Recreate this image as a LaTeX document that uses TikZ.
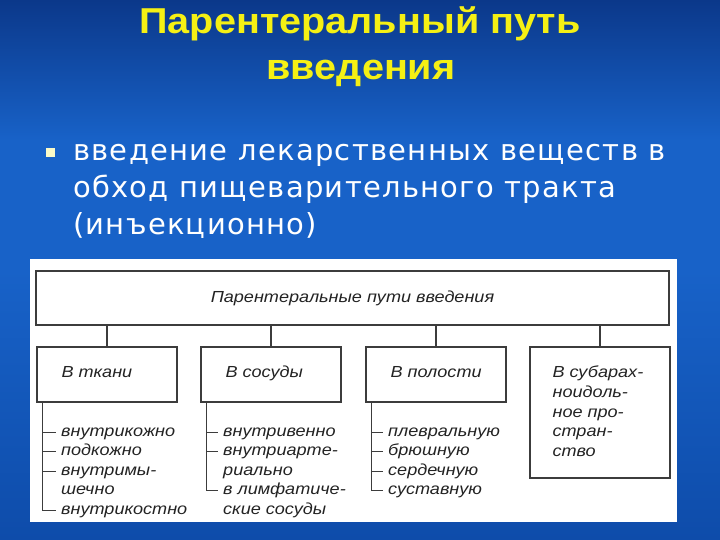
\documentclass[tikz,border=0pt]{standalone}
\usepackage{fontspec}
\setmainfont{Liberation Sans}
\newfontfamily\titlefont[FakeStretch=1.1]{Liberation Sans}
\newfontfamily\bodyfont[LetterSpace=4.5]{DejaVu Sans}
\newfontfamily\diagfont[FakeStretch=1.13]{Liberation Sans}
\definecolor{bgtop}{RGB}{11,56,138}
\definecolor{bgmid}{RGB}{24,98,200}
\definecolor{bgbot}{RGB}{14,76,170}
\definecolor{titley}{RGB}{245,240,20}
\definecolor{bulletc}{RGB}{250,250,200}
\definecolor{boxline}{RGB}{60,60,60}
\definecolor{dtext}{RGB}{35,35,35}
\pgfdeclareverticalshading{bgshade}{100bp}{color(0bp)=(bgbot); color(25bp)=(bgbot); color(50bp)=(bgmid); color(62bp)=(bgmid); color(75bp)=(bgtop); color(100bp)=(bgtop)}
\begin{document}
\begin{tikzpicture}[x=1pt,y=-1pt,
  titletext/.style={font=\titlefont\bfseries\fontsize{36}{40}\selectfont, text=titley, anchor=base, inner sep=0},
  bodytext/.style={font=\bodyfont\fontsize{29}{37}\selectfont, text=white, anchor=base west, inner sep=0},
  bulletsq/.style={fill=bulletc, minimum size=9pt, inner sep=0},
  panel/.style={fill=white, draw=none},
  box/.style={draw=boxline, line width=1.3pt, fill=white, inner sep=0},
  dfont/.style={font=\diagfont\itshape\fontsize{16}{19.7}\selectfont, text=dtext, inner sep=0},
  lbl/.style={dfont, anchor=base west},
  item/.style={dfont, anchor=base west, text height=11pt, text depth=3pt},
  conn/.style={draw=boxline, line width=1.3pt},
  brk/.style={draw=boxline, line width=1pt}
]
\useasboundingbox (0,0) rectangle (720,540);
\shade[shading=bgshade] (0,0) rectangle (720,540);

% title
\node[titletext] (tt1) at (360,34) {Парентеральный путь};
\node[titletext] (tt2) at (361,80) {введения};

% bullet text
\node[bulletsq] (bul) at (50.5,152.5) {};
\node[bodytext] (b1) at (73,161) {введение лекарственных веществ в};
\node[bodytext] (b2) at (73,198) {обход пищеварительного тракта};
\node[bodytext] (b3) at (73,235) {(инъекционно)};

% panel
\fill[panel] (30,259) rectangle (677,522);

% boxes
\node[box, minimum width=633pt, minimum height=54pt, dfont] (root) at (352.5,298) {Парентеральные пути введения};
\node[box, minimum width=140pt, minimum height=55pt] (c1) at (107,374.5) {};
\node[box, minimum width=140pt, minimum height=55pt] (c2) at (271,374.5) {};
\node[box, minimum width=140pt, minimum height=55pt] (c3) at (436,374.5) {};
\node[box, minimum width=140pt, minimum height=131pt] (c4) at (600,412.5) {};

\foreach \c in {c1,c2,c3,c4} \draw[conn] (root.south -| \c.north) -- (\c.north);

\node[lbl] (l1) at ([xshift=25pt]c1.west |- 0,377.5) {В ткани};
\node[lbl] (l2) at ([xshift=25pt]c2.west |- 0,377.5) {В сосуды};
\node[lbl] (l3) at ([xshift=25pt]c3.west |- 0,377.5) {В полости};
\node[dfont, anchor=north west, align=left] (l4) at ([xshift=23pt]c4.west |- 0,365.8) {В субарах-\\ноидоль-\\ное про-\\стран-\\ство};

% items box 1
\coordinate (v1) at ([xshift=6pt]c1.south west);
\node[item] (a1) at (61,436) {внутрикожно};
\node[item] (a2) at (61,455.5) {подкожно};
\node[item] (a3) at (61,475) {внутримы-};
\node[item] (a4) at (61,494.5) {шечно};
\node[item] (a5) at (61,514) {внутрикостно};
\draw[brk] (v1) |- ([xshift=-5pt]a5.west);
\foreach \t in {a1,a2,a3} \draw[brk] (v1 |- \t.west) -- ([xshift=-5pt]\t.west);

% items box 2
\coordinate (v2) at ([xshift=6pt]c2.south west);
\node[item] (s1) at (223,436) {внутривенно};
\node[item] (s2) at (223,455.5) {внутриарте-};
\node[item] (s3) at (223,475) {риально};
\node[item] (s4) at (223,494.5) {в лимфатиче-};
\node[item] (s5) at (223,514) {ские сосуды};
\draw[brk] (v2) |- ([xshift=-5pt]s4.west);
\foreach \t in {s1,s2} \draw[brk] (v2 |- \t.west) -- ([xshift=-5pt]\t.west);

% items box 3
\coordinate (v3) at ([xshift=6pt]c3.south west);
\node[item] (p1) at (388,436) {плевральную};
\node[item] (p2) at (388,455.5) {брюшную};
\node[item] (p3) at (388,475) {сердечную};
\node[item] (p4) at (388,494.5) {суставную};
\draw[brk] (v3) |- ([xshift=-5pt]p4.west);
\foreach \t in {p1,p2,p3} \draw[brk] (v3 |- \t.west) -- ([xshift=-5pt]\t.west);
\end{tikzpicture}
\end{document}
